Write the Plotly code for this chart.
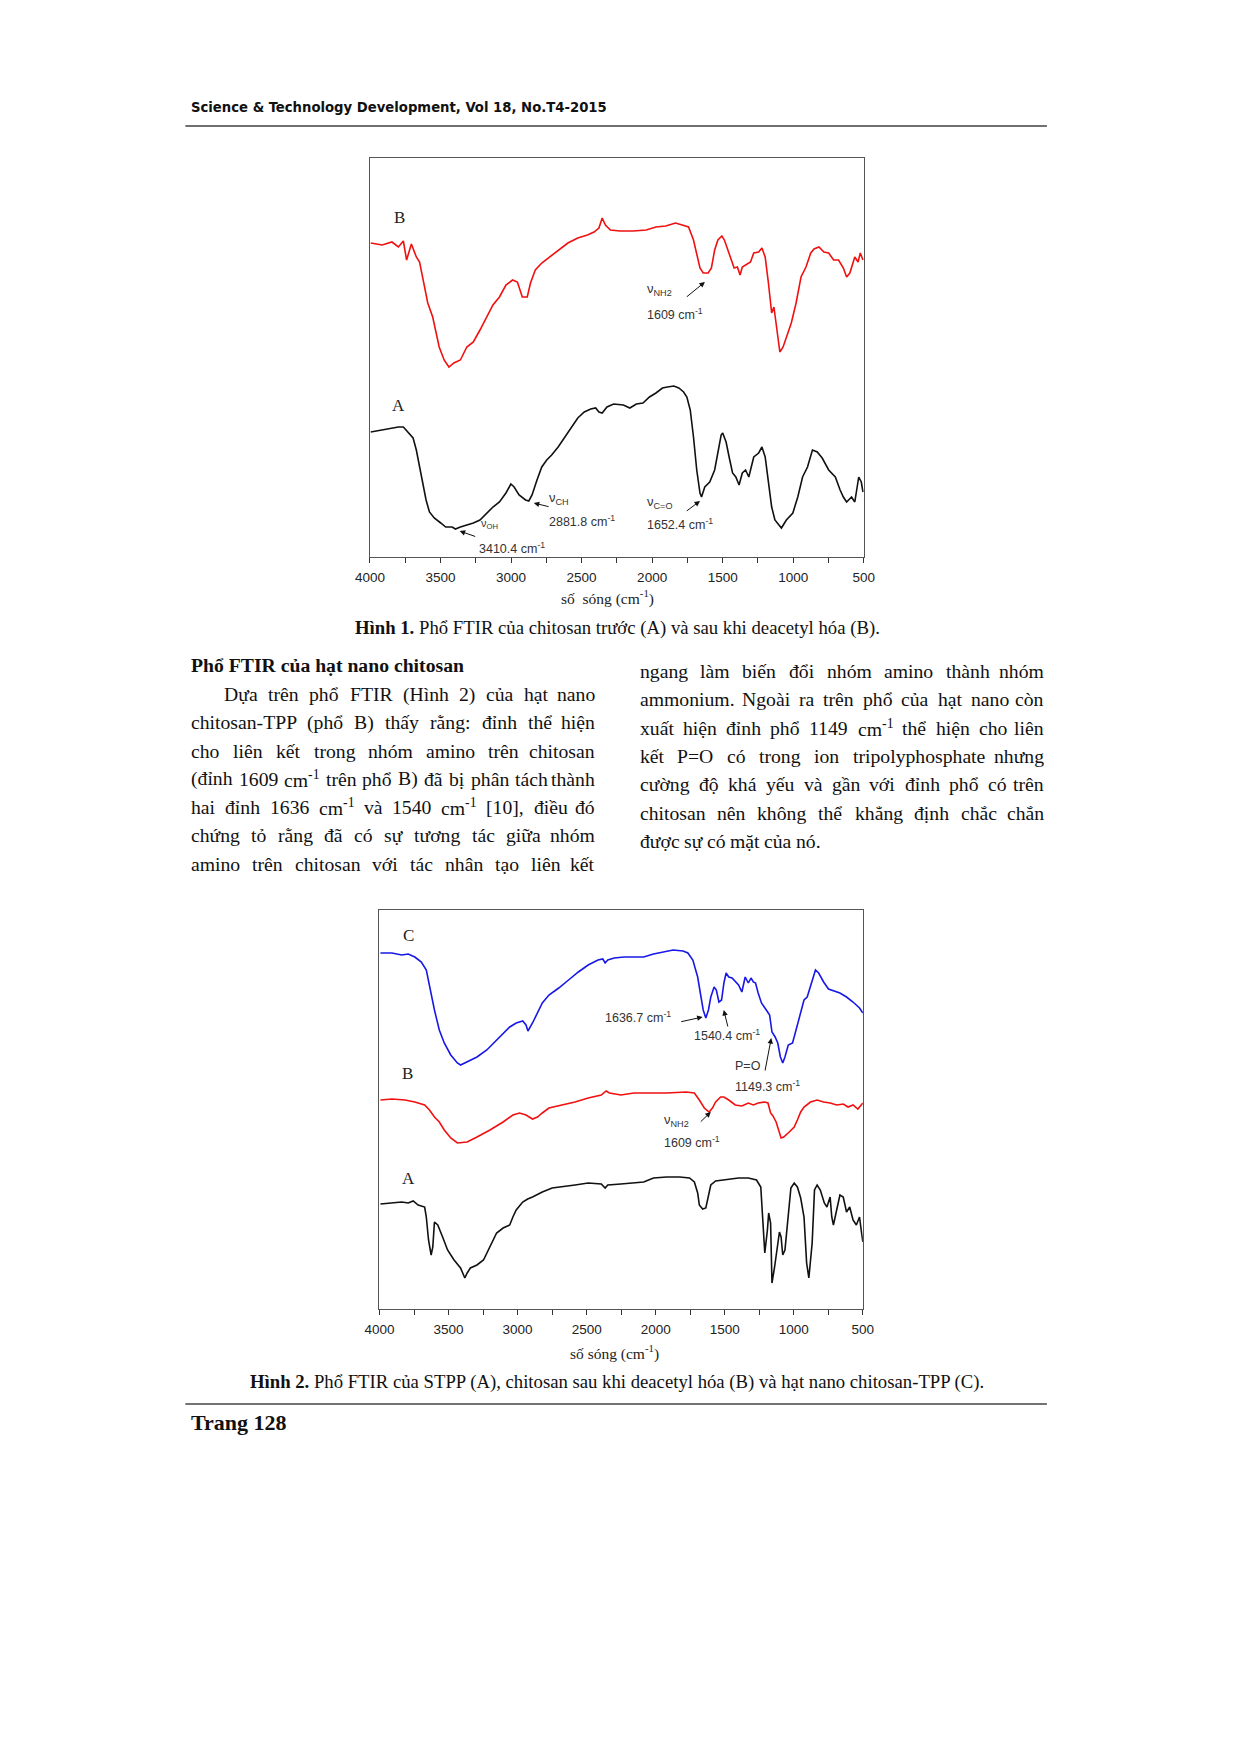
import unicodedata
import plotly.graph_objects as go

# ---------------- DATA (wavenumber cm^-1, transmittance a.u.) ----------------
# Figure 1, curve B (chitosan after deacetylation, red)
f1_B_wn = [3994,3913,3844,3798,3763,3740,3706,3671,3648,3625,3590,3555,3509,3474,3440,3405,3359,3313,3267,3220,
           3174,3128,3082,3036,2989,2955,2920,2885,2862,2828,2782,2735,2666,2597,2527,2458,2412,2377,2354,2331,
           2296,2227,2135,2042,1973,1904,1834,1742,1707,1684,1661,1638,1603,1580,1557,1534,1506,1488,1465,1442,
           1419,1396,1377,1361,1338,1303,1280,1245,1222,1199,1176,1153,1137,1118,1095,1072,1049,1014,980,945,
           910,876,853,818,783,749,714,679,645,622,599,587,564,541,525,506]
f1_B_t = [314,312,315,310,316,297,313,300,295,280,254,240,210,197,190,194,197,210,215,227,
          239,252,260,272,277,275,260,260,274,287,294,299,307,314,319,322,325,329,339,332,
          327,326,326,327,330,331,334,330,317,304,289,284,284,289,307,317,321,317,307,297,
          289,290,282,290,292,295,304,305,309,300,274,244,250,227,205,210,220,234,254,280,
          290,304,308,310,305,304,297,297,289,280,284,290,300,295,304,297]
# Figure 1, curve A (chitosan before deacetylation, black)
f1_A_wn = [3994,3913,3844,3798,3763,3729,3694,3671,3648,3625,3602,3578,3544,3498,3463,3417,3394,3359,3313,3267,
           3220,3174,3128,3082,3036,3001,2978,2943,2897,2874,2851,2816,2782,2747,2712,2666,2620,2574,2527,2481,
           2435,2400,2377,2354,2320,2273,2204,2158,2112,2065,2019,1973,1927,1892,1846,1811,1777,1754,1730,1707,
           1684,1661,1650,1627,1592,1557,1534,1511,1500,1476,1453,1430,1407,1384,1361,1338,1315,1280,1245,1222,
           1199,1176,1153,1130,1084,1049,1003,968,934,899,864,830,795,749,702,668,645,622,587,564,
           536,518,506]
f1_A_t = [125,127,129,130,130,125,119,107,90,74,57,45,39,34,30,30,28,30,32,34,
          37,44,50,55,64,73,70,62,57,56,62,77,90,97,102,110,120,130,139,145,
          148,149,145,144,150,153,152,149,153,154,160,164,169,170,171,169,165,160,147,120,
          87,64,60,70,75,87,104,122,124,115,99,84,80,72,84,87,80,100,104,110,
          100,74,50,37,29,37,44,60,80,90,107,105,99,87,80,67,60,55,60,55,
          80,75,65]

# Figure 2, curve C (chitosan-TPP nanoparticles, blue)
f2_C_wn = [3993,3910,3839,3792,3744,3697,3661,3638,3602,3567,3531,3484,3436,3413,3365,3294,3223,3152,3105,3057,
           3010,2963,2939,2925,2892,2856,2821,2773,2702,2631,2560,2489,2418,2383,2366,2347,2300,2229,2158,2087,
           2016,1944,1873,1802,1767,1731,1696,1672,1656,1637,1618,1601,1577,1561,1542,1523,1506,1490,1471,1447,
           1424,1400,1376,1352,1329,1310,1293,1277,1258,1234,1199,1175,1158,1135,1116,1097,1080,1064,1040,1009,
           978,950,926,903,867,843,820,784,749,713,666,618,571,524,500]
f2_C_t = [356,356,354,355,352,347,339,322,299,279,266,254,246,244,247,252,259,269,276,282,
          286,288,284,278,286,296,306,314,321,329,337,344,349,350,346,349,351,352,352,352,
          355,357,359,358,356,349,332,312,299,291,299,312,322,319,307,309,326,336,332,331,
          327,324,317,332,326,331,327,326,316,306,299,294,277,272,266,252,246,252,264,266,
          282,296,309,312,329,339,336,327,320,318,316,312,307,301,296]
# Figure 2, curve B (chitosan after deacetylation, red)
f2_B_wn = [3993,3910,3815,3744,3673,3638,3602,3567,3531,3484,3436,3365,3294,3200,3105,3034,2986,2939,2892,2856,
           2821,2773,2679,2584,2489,2394,2359,2335,2252,2158,2039,1921,1779,1720,1684,1648,1613,1589,1566,1530,
           1506,1471,1424,1376,1329,1293,1258,1210,1187,1168,1151,1128,1092,1073,1033,997,974,950,926,879,
           831,784,737,689,642,607,571,536,500]
f2_B_t = [209,210,209,207,204,199,192,187,179,171,166,167,172,179,187,194,196,194,190,192,
          196,201,204,207,211,214,218,216,214,216,216,216,217,216,209,201,197,201,207,212,
          212,209,204,203,206,204,206,207,206,196,193,187,171,172,177,182,189,197,202,207,
          209,207,206,204,205,202,204,200,206]
# Figure 2, curve A (STPP, black)
f2_A_wn = [3993,3910,3839,3792,3756,3720,3673,3661,3645,3626,3614,3602,3578,3543,3507,3460,3413,3382,3365,3342,
           3294,3247,3200,3152,3105,3057,3034,3010,2963,2927,2892,2821,2750,2679,2584,2489,2394,2366,2347,2252,
           2158,2087,2016,1921,1826,1755,1720,1696,1684,1660,1637,1618,1601,1566,1495,1400,1329,1270,1239,1222,
           1210,1191,1182,1168,1158,1139,1116,1104,1092,1080,1064,1045,1021,997,974,950,926,907,891,867,
           850,831,808,779,760,737,725,713,689,666,642,618,595,571,547,524,512,500]
f2_A_t = [105,106,107,106,108,104,102,92,69,54,62,87,84,72,59,49,41,31,36,41,
          44,49,62,76,81,84,92,99,107,110,112,117,121,122,124,126,125,121,124,125,
          126,127,131,132,132,131,127,116,104,100,101,112,124,128,129,131,131,129,122,89,
          56,79,96,86,26,42,66,77,72,54,59,89,121,126,122,111,92,46,31,66,
          119,124,119,106,102,112,92,84,99,114,112,97,102,89,84,92,79,67]

tick_vals = [4000, 3500, 3000, 2500, 2000, 1500, 1000, 500]
tick_text = ["4000", "3500", "3000", "2500", "2000", "1500", "1000", "500"]

header_text = "Science & Technology Development, Vol 18, No.T4-2015"
caption1 = ("Hình 1.", " Phổ FTIR của chitosan trước (A) và sau khi deacetyl hóa (B).")
caption2 = ("Hình 2.", " Phổ FTIR của STPP (A), chitosan sau khi deacetyl hóa (B) và hạt nano chitosan-TPP (C).")
section_title = "Phổ FTIR của hạt nano chitosan"
left_lines = [
    "Dựa trên phổ FTIR (Hình 2) của hạt nano",
    "chitosan-TPP (phổ B) thấy rằng: đỉnh thể hiện",
    "cho liên kết trong nhóm amino trên chitosan",
    "(đỉnh 1609 cm-1 trên phổ B) đã bị phân tách thành",
    "hai đỉnh 1636 cm-1 và 1540 cm-1 [10], điều đó",
    "chứng tỏ rằng đã có sự tương tác giữa nhóm",
    "amino trên chitosan với tác nhân tạo liên kết",
]
right_lines = [
    "ngang làm biến đổi nhóm amino thành nhóm",
    "ammonium. Ngoài ra trên phổ của hạt nano còn",
    "xuất hiện đỉnh phổ 1149 cm-1 thể hiện cho liên",
    "kết P=O có trong ion tripolyphosphate nhưng",
    "cường độ khá yếu và gần với đỉnh phổ có trên",
    "chitosan nên không thể khẳng định chắc chắn",
    "được sự có mặt của nó.",
]
page_label = "Trang 128"

# ---------------- helpers ----------------
W, H = 1240, 1754
def X(px): return px / W
def Y(py): return 1 - py / H

SERIF = "Liberation Serif, Times New Roman, serif"
SANS = "Liberation Sans, Arial, sans-serif"

TR = {' ':250,'(':333,')':333,',':250,'-':333,'.':250,':':278,'=':564,'[':333,']':333,
      'A':722,'B':667,'C':667,'D':722,'E':611,'F':556,'G':722,'H':722,'I':333,'J':389,'K':722,'L':611,'M':889,
      'N':722,'O':722,'P':556,'Q':722,'R':667,'S':556,'T':611,'U':722,'V':722,'W':944,'X':722,'Y':722,'Z':611,
      'a':444,'b':500,'c':444,'d':500,'e':444,'f':333,'g':500,'h':500,'i':278,'j':278,'k':500,'l':278,'m':778,
      'n':500,'o':500,'p':500,'q':500,'r':333,'s':389,'t':278,'u':500,'v':500,'w':722,'x':500,'y':500,'z':444}
TB = {' ':250,'(':333,')':333,',':250,'-':333,'.':250,':':333,
      'A':722,'B':667,'C':722,'D':722,'E':667,'F':611,'G':778,'H':778,'I':389,'J':500,'K':778,'L':667,'M':944,
      'N':722,'O':778,'P':611,'Q':778,'R':722,'S':556,'T':667,'U':722,'V':722,'W':1000,'X':722,'Y':722,'Z':667,
      'a':500,'b':556,'c':444,'d':556,'e':444,'f':333,'g':500,'h':556,'i':278,'j':333,'k':556,'l':278,'m':833,
      'n':556,'o':500,'p':556,'q':556,'r':444,'s':389,'t':333,'u':556,'v':500,'w':722,'x':500,'y':500,'z':444}

def gw(ch, table):
    if ch in table: return table[ch]
    if ch == 'đ': return table['d']
    if ch == 'Đ': return table['D']
    if ch.isdigit(): return 500
    d = unicodedata.normalize('NFD', ch)
    w = table.get(d[0], 500)
    if '\u031b' in d: w += 60
    return w

def sw(s, table=TR):
    return sum(gw(c, table) for c in s)

def word_w(w, table=TR):
    if w == 'cm-1':
        return sw('cm', table) + 0.7 * sw('-1', table)
    return sw(w, table)

def word_html(w):
    return 'cm<sup>-1</sup>' if w == 'cm-1' else w

annotations = []
shapes = []

def txt(x, y, text, size, family=SERIF, xanchor='left', color='#111', xref='paper', yref='paper'):
    annotations.append(dict(x=x, y=y, xref=xref, yref=yref, text=text, showarrow=False,
                            xanchor=xanchor, yanchor='middle', borderpad=0,
                            font=dict(family=family, size=size, color=color)))

def arrow(x, y, ax, ay, xref, yref):
    annotations.append(dict(x=x, y=y, ax=ax, ay=ay, xref=xref, yref=yref, axref=xref, ayref=yref,
                            text='', showarrow=True, arrowhead=2, arrowsize=1.1, arrowwidth=1,
                            arrowcolor='#111', standoff=0, startstandoff=0))

BODY = 19.7
def place_line(line, x0, x1, yc, justify=True):
    words = line.split(' ')
    widths = [word_w(w) * BODY / 1000 for w in words]
    if justify and len(words) > 1:
        gap = (x1 - x0 - sum(widths)) / (len(words) - 1)
    else:
        gap = 250 * BODY / 1000
    x = x0
    for i, (w, wd) in enumerate(zip(words, widths)):
        if justify and i == len(words) - 1 and len(words) > 1:
            txt(X(x1), Y(yc), word_html(w), BODY, xanchor='right')
        else:
            txt(X(x), Y(yc), word_html(w), BODY)
        x += wd + gap

# ---------------- figure ----------------
fig = go.Figure()
fig.add_trace(go.Scatter(x=f1_B_wn, y=f1_B_t, mode='lines', line=dict(color='#f01010', width=1.6),
                         xaxis='x', yaxis='y', showlegend=False))
fig.add_trace(go.Scatter(x=f1_A_wn, y=f1_A_t, mode='lines', line=dict(color='#111111', width=1.6),
                         xaxis='x', yaxis='y', showlegend=False))
fig.add_trace(go.Scatter(x=f2_C_wn, y=f2_C_t, mode='lines', line=dict(color='#1818e6', width=1.6),
                         xaxis='x2', yaxis='y2', showlegend=False))
fig.add_trace(go.Scatter(x=f2_B_wn, y=f2_B_t, mode='lines', line=dict(color='#f01010', width=1.6),
                         xaxis='x2', yaxis='y2', showlegend=False))
fig.add_trace(go.Scatter(x=f2_A_wn, y=f2_A_t, mode='lines', line=dict(color='#111111', width=1.6),
                         xaxis='x2', yaxis='y2', showlegend=False))

def xaxis_cfg(domain, anchor):
    return dict(domain=domain, anchor=anchor, range=[4000, 500], tickmode='array',
                tickvals=tick_vals, ticktext=tick_text, ticks='outside', ticklen=5, tickwidth=1,
                tickcolor='#333', showline=True, linecolor='#555', linewidth=1, mirror=True,
                showgrid=False, zeroline=False, ticklabelstandoff=3,
                tickfont=dict(family=SANS, size=13.5, color='#222'),
                minor=dict(tickmode='linear', tick0=0, dtick=250, ticks='outside', ticklen=5,
                           tickcolor='#333', showgrid=False))

def yaxis_cfg(domain, anchor):
    return dict(domain=domain, anchor=anchor, range=[0, 399], showticklabels=False, ticks='',
                showline=True, linecolor='#555', linewidth=1, mirror=True, showgrid=False, zeroline=False)

# ---- Figure 1 labels ----
txt(3789, 340, 'B', 17, SERIF, 'center', '#222', 'x', 'y')
txt(3796, 152, 'A', 17, SERIF, 'center', '#222', 'x', 'y')
txt(2042, 268, 'ν<sub>NH2</sub>', 13, SANS, 'left', '#333', 'x', 'y')
txt(2042, 243, '1609 cm<sup>-1</sup>', 12.5, SANS, 'left', '#333', 'x', 'y')
arrow(1626, 275, 1765, 259, 'x', 'y')
txt(3220, 33, 'ν<sub>OH</sub>', 11, SANS, 'left', '#333', 'x', 'y')
txt(3232, 9, '3410.4 cm<sup>-1</sup>', 12.5, SANS, 'left', '#333', 'x', 'y')
arrow(3364, 26, 3243, 20, 'x', 'y')
txt(2735, 59, 'ν<sub>CH</sub>', 13, SANS, 'left', '#333', 'x', 'y')
txt(2735, 36, '2881.8 cm<sup>-1</sup>', 12.5, SANS, 'left', '#333', 'x', 'y')
arrow(2839, 54, 2723, 50, 'x', 'y')
txt(2042, 55, 'ν<sub>C=O</sub>', 13, SANS, 'left', '#333', 'x', 'y')
txt(2042, 33, '1652.4 cm<sup>-1</sup>', 12.5, SANS, 'left', '#333', 'x', 'y')
arrow(1661, 56, 1765, 45, 'x', 'y')
txt(X(605), Y(597), 'số  sóng (cm<sup>-1</sup>)', 15.5, SERIF, 'center', '#222')

# ---- Figure 2 labels ----
txt(3791, 374, 'C', 17, SERIF, 'center', '#222', 'x2', 'y2')
txt(3796, 236, 'B', 17, SERIF, 'center', '#222', 'x2', 'y2')
txt(3787, 131, 'A', 17, SERIF, 'center', '#222', 'x2', 'y2')
txt(1885, 292, '1636.7 cm<sup>-1</sup>', 12.5, SANS, 'right', '#333', 'x2', 'y2')
arrow(1660, 292, 1826, 287, 'x2', 'y2')
txt(1731, 274, '1540.4 cm<sup>-1</sup>', 12.5, SANS, 'left', '#333', 'x2', 'y2')
arrow(1507, 299, 1475, 281, 'x2', 'y2')
txt(1435, 243, 'P=O', 12.5, SANS, 'left', '#333', 'x2', 'y2')
txt(1435, 223, '1149.3 cm<sup>-1</sup>', 12.5, SANS, 'left', '#333', 'x2', 'y2')
arrow(1163, 271, 1210, 237, 'x2', 'y2')
txt(1944, 189, 'ν<sub>NH2</sub>', 13, SANS, 'left', '#333', 'x2', 'y2')
txt(1944, 167, '1609 cm<sup>-1</sup>', 12.5, SANS, 'left', '#333', 'x2', 'y2')
arrow(1601, 197, 1684, 186, 'x2', 'y2')
txt(X(612), Y(1352), 'số sóng (cm<sup>-1</sup>)', 15.5, SERIF, 'center', '#222')

# ---- page text ----
txt(X(179), Y(106), '<b>' + header_text + '</b>', 14.7,
    'DejaVu Sans Condensed, Liberation Sans Narrow, Arial Narrow, sans-serif', 'left', '#111')
shapes.append(dict(type='line', xref='paper', yref='paper', x0=X(174), x1=X(1054), y0=Y(126), y1=Y(126),
                   line=dict(color='#707070', width=2.2)))

def caption(parts, cx, cy, target_w):
    units = sw(parts[0], TB) + sw(parts[1], TR)
    size = target_w * 1000 / units
    txt(X(cx), Y(cy), '<b>' + parts[0] + '</b>' + parts[1], size, SERIF, 'center', '#111')

caption(caption1, 615, 628, 526)
caption(caption2, 615, 1382, 736)

txt(X(179), Y(665), '<b>' + section_title + '</b>', BODY, SERIF, 'left', '#111')

left_y = [695, 723.3, 751.6, 779.9, 808.2, 836.5, 864.8]
right_y = [672, 700.3, 728.6, 756.9, 785.2, 813.5, 841.8]
for i, (line, yc) in enumerate(zip(left_lines, left_y)):
    place_line(line, 212 if i == 0 else 179, 593, yc - 1)
for i, (line, yc) in enumerate(zip(right_lines, right_y)):
    place_line(line, 637, 1052, yc - 1, justify=(i < len(right_lines) - 1))

shapes.append(dict(type='line', xref='paper', yref='paper', x0=X(174), x1=X(1054), y0=Y(1404), y1=Y(1404),
                   line=dict(color='#444444', width=1.6)))
txt(X(179), Y(1422), '<b>' + page_label + '</b>', 22, SERIF, 'left', '#111')

fig.update_layout(
    width=W, height=H, margin=dict(l=0, r=0, t=0, b=0),
    paper_bgcolor='white', plot_bgcolor='white', showlegend=False,
    xaxis=xaxis_cfg([X(362.5), X(867)], 'y'),
    yaxis=yaxis_cfg([Y(557), Y(158)], 'x'),
    xaxis2=xaxis_cfg([X(372.3), X(866)], 'y2'),
    yaxis2=yaxis_cfg([Y(1309), Y(910)], 'x2'),
    annotations=annotations, shapes=shapes,
)

fig.write_html("out.html")
